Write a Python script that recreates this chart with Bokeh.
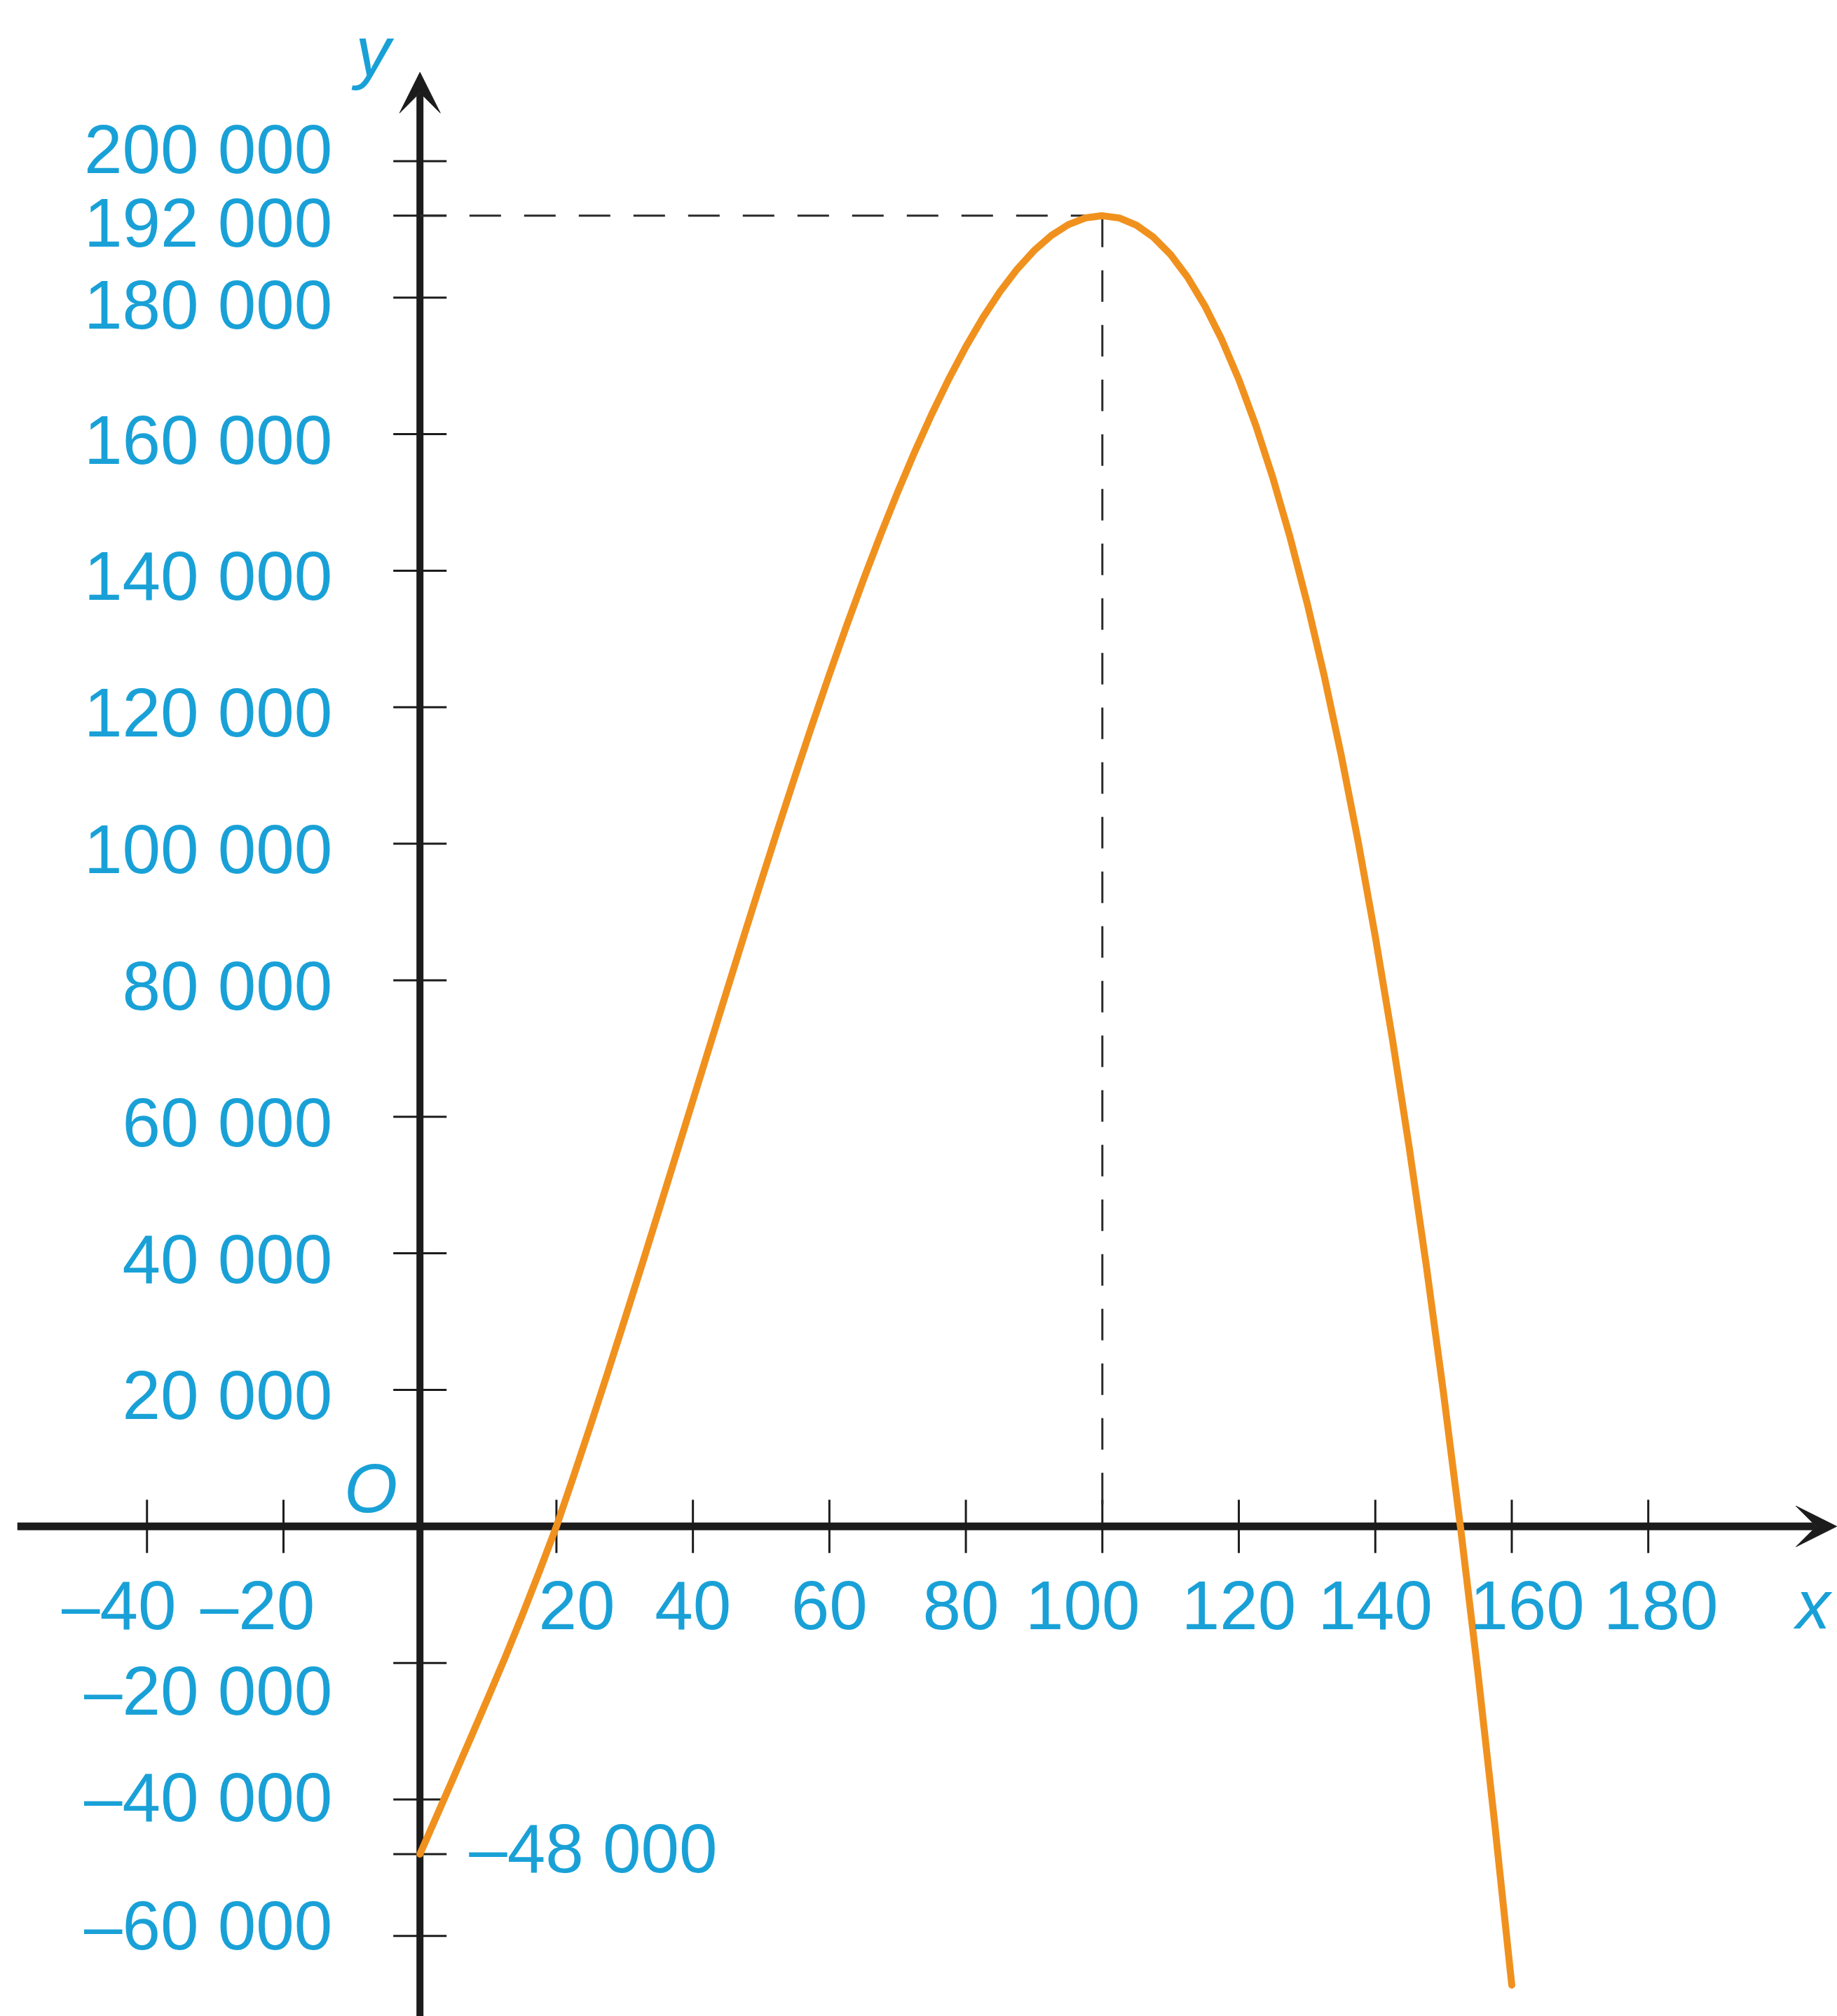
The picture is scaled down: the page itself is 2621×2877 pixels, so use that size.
import math
from bokeh.plotting import figure
from bokeh.models import Range1d, Arrow, VeeHead, ColumnDataSource
from bokeh.core.properties import value
from bokeh.embed import file_html
from bokeh.resources import INLINE

# ---- data ----
curve_x = [0, 2.5, 5, 7.5, 10, 12.5, 15, 17.5, 20, 22.5, 25, 27.5, 30, 32.5, 35, 37.5,
           40, 42.5, 45, 47.5, 50, 52.5, 55, 57.5, 60, 62.5, 65, 67.5, 70, 72.5, 75, 77.5,
           80, 82.5, 85, 87.5, 90, 92.5, 95, 97.5, 100, 102.5, 105, 107.5, 110, 112.5, 115,
           117.5, 120, 122.5, 125, 127.5, 130, 132.5, 135, 137.5, 140, 142.5, 145, 147.5,
           150, 152.5, 155, 157.5, 160]
curve_y = [-48000, -42300, -36600, -30850, -25050, -19150, -13000, -6600, 0, 7308, 14813,
           22486, 30300, 38227, 46238, 54305, 62400, 70495, 78563, 86573, 94500, 102314,
           109988, 117492, 124800, 131883, 138713, 145261, 151500, 157402, 162938, 168080,
           172800, 177070, 180863, 184148, 186900, 189089, 190688, 191667, 192000, 191658,
           190613, 188836, 186300, 182977, 178838, 173855, 168000, 161245, 153563, 144923,
           135300, 124664, 112988, 100242, 86400, 71433, 55313, 38011, 19500, -248, -21113,
           -43570, -67200]

peak_x = 100
peak_y = 192000
intercept_y = -48000

x_ticks = [-40, -20, 20, 40, 60, 80, 100, 120, 140, 160, 180]
x_tick_labels = ["–40", "–20", "20", "40", "60", "80", "100", "120", "140", "160", "180"]

y_ticks = [200000, 192000, 180000, 160000, 140000, 120000, 100000, 80000, 60000,
           40000, 20000, -20000, -40000, -60000]
y_tick_labels = ["200 000", "192 000", "180 000", "160 000", "140 000", "120 000",
                 "100 000", "80 000", "60 000", "40 000", "20 000", "–20 000",
                 "–40 000", "–60 000"]
intercept_label = "–48 000"

# ---- styles ----
BLUE = "#19a1d7"
ORANGE = "#f0911e"
INK = "#1c1c1c"
FONT = value("Liberation Sans")
FS = "98px"

# label nudges (screen px)
x_label_dx = {-40: -40, -20: -37, 20: 29, 80: -7, 100: -28, 160: 22, 180: 18}
y_label_dy = {200000: -17, 192000: 10, 180000: 10, -20000: 40, -40000: -3, -60000: -15}

X0, X1 = -61.49, 207.71
Y0, Y1 = -71772, 223547

p = figure(width=2621, height=2877, x_range=Range1d(X0, X1), y_range=Range1d(Y0, Y1),
           x_axis_location=None, y_axis_location=None, toolbar_location=None,
           output_backend="svg", min_border=0)
p.grid.visible = False
p.outline_line_color = None
p.background_fill_color = "white"
p.border_fill_color = "white"

# axes with arrows
x_axis_start = -59
x_axis_end = X1 - 0.1
y_axis_start = Y0 - 2000
y_axis_end = 213000

ax = Arrow(end=VeeHead(size=58, fill_color=INK, line_color=INK, line_width=1),
           x_start=x_axis_start, y_start=0, x_end=x_axis_end, y_end=0,
           line_width=11, line_color=INK, level="underlay")
ay = Arrow(end=VeeHead(size=58, fill_color=INK, line_color=INK, line_width=1),
           x_start=0, y_start=y_axis_start, x_end=0, y_end=y_axis_end,
           line_width=10, line_color=INK, level="underlay")
p.add_layout(ax)
p.add_layout(ay)

# tick marks
p.scatter(x=[0] * (len(y_ticks) + 1), y=y_ticks + [intercept_y], marker="dash",
          size=76, line_width=3, line_color=INK)
p.scatter(x=x_ticks, y=[0] * len(x_ticks), marker="dash", angle=math.pi / 2,
          size=76, line_width=3, line_color=INK)

# dashed guides from the peak
p.line([peak_x, 0], [peak_y, peak_y], line_dash="45 33", line_width=3, line_color="#2a2a2a")
p.line([peak_x, peak_x], [peak_y, 0], line_dash="45 33", line_width=3, line_color="#2a2a2a")

# curve
p.line(curve_x, curve_y, line_width=10, line_color=ORANGE, line_join="round", line_cap="round")

# y tick labels
ysrc = ColumnDataSource(dict(
    x=[0] * len(y_ticks), y=y_ticks, t=y_tick_labels,
    dy=[y_label_dy.get(v, 8) for v in y_ticks]))
p.text(x="x", y="y", text="t", y_offset="dy", x_offset=-125, source=ysrc,
       text_align="right", text_baseline="middle", text_font=FONT,
       text_font_size=FS, text_color=BLUE)

# intercept label
p.text(x=[0], y=[intercept_y], text=[intercept_label], x_offset=70, y_offset=-8,
       text_align="left", text_baseline="middle", text_font=FONT,
       text_font_size=FS, text_color=BLUE)

# x tick labels
xsrc = ColumnDataSource(dict(
    x=x_ticks, y=[0] * len(x_ticks), t=x_tick_labels,
    dx=[x_label_dx.get(v, 0) for v in x_ticks]))
p.text(x="x", y="y", text="t", x_offset="dx", y_offset=113, source=xsrc,
       text_align="center", text_baseline="middle", text_font=FONT,
       text_font_size=FS, text_color=BLUE)

# axis names and origin
p.text(x=[0], y=[y_axis_end], text=["y"], x_offset=-67, y_offset=-30,
       text_align="center", text_baseline="middle", text_font=FONT,
       text_font_style="italic", text_font_size="100px", text_color=BLUE)
p.text(x=[x_axis_end], y=[0], text=["x"], x_offset=-58, y_offset=112,
       text_align="left", text_baseline="middle", text_font=FONT,
       text_font_style="italic", text_font_size=FS, text_color=BLUE)
p.text(x=[0], y=[0], text=["O"], x_offset=-70, y_offset=-54,
       text_align="center", text_baseline="middle", text_font=FONT,
       text_font_style="italic", text_font_size=FS, text_color=BLUE)

open("out.html", "w").write(file_html(p, INLINE))
